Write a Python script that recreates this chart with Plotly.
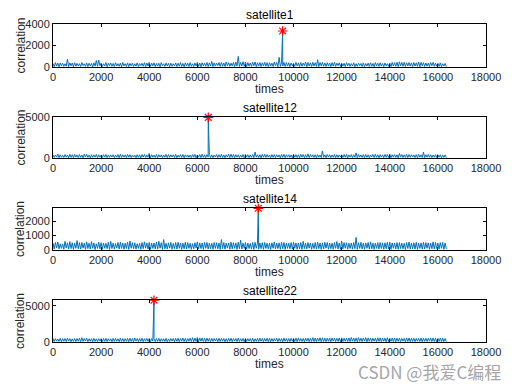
import plotly.graph_objects as go

# ---- data -------------------------------------------------------------
sample_step = 50           # times between the read-off noise samples
tick_vals = [0, 2000, 4000, 6000, 8000, 10000, 12000, 14000, 16000, 18000]
tick_text = ["0", "2000", "4000", "6000", "8000", "10000", "12000", "14000", "16000", "18000"]

titles = ["satellite1", "satellite12", "satellite14", "satellite22"]

sat1_noise = [
    320, 40, 410, 90, 360, 30, 380, 120, 350, 60, 300, 80, 720, 40, 390, 110, 370, 20, 400, 70,
    340, 90, 310, 50, 420, 130, 300, 60, 380, 40, 350, 100, 330, 20, 390, 80, 600, 60, 640, 110,
    360, 50, 300, 90, 410, 30, 350, 120, 380, 60, 330, 40, 400, 90, 310, 70, 360, 20, 420, 100,
    310, 60, 380, 30, 340, 110, 360, 50, 300, 80, 390, 40, 320, 120, 350, 70, 400, 30, 370, 90,
    430, 50, 360, 100, 390, 40, 330, 80, 350, 20, 410, 120, 300, 60, 380, 90, 340, 30, 360, 70,
    300, 110, 380, 40, 350, 80, 420, 60, 330, 20, 390, 100, 360, 50, 410, 70, 300, 40, 380, 90,
    440, 60, 370, 30, 400, 110, 350, 70, 420, 50, 380, 90, 520, 40, 390, 80, 360, 120, 410, 50,
    430, 70, 380, 40, 470, 110, 400, 60, 360, 90, 420, 30, 450, 80, 980, 50, 430, 100, 500, 60,
    460, 40, 410, 90, 380, 60, 440, 120, 470, 30, 400, 80, 420, 50, 390, 100, 440, 70, 410, 40,
    400, 80, 360, 50, 460, 120, 420, 30, 900, 60, 380, 90, 430, 50, 410, 80, 390, 40, 370, 100,
    350, 60, 430, 100, 380, 40, 410, 70, 370, 120, 460, 30, 420, 80, 390, 50, 440, 90, 400, 60,
    680, 40, 420, 110, 430, 70, 380, 50, 400, 90, 370, 30, 410, 80, 440, 60, 360, 120, 390, 50,
    370, 80, 340, 40, 400, 110, 350, 60, 320, 90, 390, 30, 310, 70, 360, 120, 330, 50, 380, 40,
    320, 90, 360, 50, 390, 70, 340, 30, 410, 110, 350, 60, 400, 80, 330, 40, 370, 100, 310, 60,
    370, 40, 430, 90, 400, 60, 450, 30, 480, 110, 420, 70, 440, 50, 390, 100, 410, 80, 380, 40,
    420, 90, 390, 60, 470, 30, 430, 110, 400, 50, 380, 80, 360, 40, 410, 120, 430, 70, 350, 90,
    340, 60, 380, 40, 310, 100, 330, 50,
]
sat12_noise = [
    410, 70, 360, 120, 480, 40, 390, 90, 340, 60, 420, 100, 370, 30, 450, 80, 400, 50, 430, 110,
    380, 60, 420, 90, 360, 40, 470, 120, 440, 70, 350, 30, 400, 80, 380, 110, 430, 50, 390, 90,
    340, 60, 410, 100, 430, 40, 380, 80, 370, 120, 400, 50, 350, 90, 420, 30, 460, 70, 390, 100,
    380, 50, 430, 90, 410, 60, 360, 120, 340, 40, 400, 80, 390, 30, 420, 110, 430, 60, 380, 90,
    560, 40, 400, 100, 360, 70, 420, 30, 400, 110, 380, 60, 370, 90, 430, 50, 420, 80, 390, 120,
    390, 60, 440, 30, 350, 100, 410, 70, 430, 40, 390, 110, 380, 80, 360, 50, 410, 90, 440, 30,
    360, 100, 410, 60, 450, 80, 390, 40, 400, 120, 430, 70, 380, 30, 360, 110, 420, 50, 400, 90,
    440, 60, 380, 30, 390, 110, 450, 50, 470, 80, 420, 40, 410, 100, 390, 60, 360, 90, 430, 30,
    430, 120, 400, 50, 380, 80, 420, 40, 720, 100, 390, 60, 400, 30, 440, 90, 450, 70, 410, 110,
    370, 40, 420, 80, 410, 60, 390, 120, 380, 30, 430, 90, 440, 50, 400, 100, 400, 70, 380, 40,
    460, 90, 410, 60, 390, 30, 450, 110, 420, 50, 400, 80, 500, 40, 430, 120, 380, 70, 410, 30,
    410, 100, 370, 50, 860, 80, 390, 40, 430, 110, 400, 60, 370, 90, 420, 30, 400, 70, 380, 120,
    390, 50, 420, 90, 440, 30, 380, 110, 410, 60, 400, 80, 620, 40, 430, 100, 380, 70, 410, 50,
    420, 90, 390, 40, 370, 120, 430, 60, 450, 80, 400, 30, 410, 110, 380, 50, 430, 90, 420, 60,
    480, 40, 400, 100, 410, 70, 390, 30, 560, 110, 420, 60, 390, 80, 440, 50, 420, 90, 400, 120,
    380, 60, 410, 30, 440, 100, 390, 70, 720, 40, 400, 110, 430, 80, 400, 50, 370, 90, 410, 60,
    410, 100, 390, 40, 350, 80, 380, 50,
]
sat14_noise = [
    480, 60, 520, 130, 550, 80, 430, 110, 420, 50, 600, 140, 500, 70, 580, 100, 500, 40, 470, 120,
    650, 90, 510, 60, 520, 130, 470, 40, 560, 100, 470, 70, 580, 120, 490, 30, 430, 110, 540, 80,
    510, 50, 480, 120, 460, 90, 530, 40, 590, 100, 470, 60, 440, 130, 520, 70, 530, 110, 480, 50,
    470, 100, 540, 40, 620, 120, 500, 80, 500, 60, 430, 110, 450, 50, 510, 90, 560, 130, 490, 70,
    520, 40, 470, 110, 480, 80, 550, 60, 600, 120, 500, 40, 720, 90, 460, 70, 490, 130, 520, 50,
    450, 100, 520, 60, 530, 120, 480, 40, 470, 90, 540, 70, 510, 110, 460, 50, 440, 80, 500, 130,
    560, 60, 490, 100, 480, 40, 530, 120, 520, 70, 470, 90, 460, 50, 520, 110, 500, 80, 480, 40,
    720, 100, 510, 60, 470, 130, 490, 50, 540, 80, 500, 120, 490, 40, 530, 90, 680, 70, 470, 110,
    510, 50, 480, 100, 450, 70, 520, 40, 530, 120, 480, 60, 480, 90, 510, 50, 520, 110, 470, 80,
    460, 40, 500, 120, 550, 70, 480, 100, 490, 50, 530, 90, 520, 40, 470, 110, 470, 80, 520, 60,
    530, 120, 490, 50, 480, 80, 510, 40, 600, 100, 470, 70, 510, 130, 480, 50, 460, 90, 520, 60,
    540, 100, 480, 40, 490, 70, 530, 120, 520, 60, 470, 90, 470, 50, 510, 110, 580, 80, 490, 40,
    620, 70, 510, 120, 500, 50, 470, 100, 480, 60, 520, 90, 870, 40, 500, 110, 530, 70, 480, 50,
    490, 120, 520, 60, 560, 80, 470, 40, 470, 110, 510, 70, 520, 100, 490, 50, 500, 90, 530, 60,
    540, 40, 490, 120, 480, 70, 510, 50, 510, 100, 470, 80, 460, 40, 520, 110, 550, 60, 480, 90,
    500, 70, 530, 40, 470, 110, 490, 60, 530, 80, 510, 120, 490, 50, 470, 90, 560, 70, 520, 100,
    480, 60, 510, 120, 520, 40, 490, 80,
]
sat22_noise = [
    500, 60, 460, 120, 420, 80, 510, 40, 460, 100, 490, 70, 530, 130, 470, 50, 440, 90, 480, 60,
    480, 110, 520, 50, 600, 80, 490, 130, 520, 60, 460, 100, 470, 40, 510, 90, 430, 70, 470, 120,
    460, 50, 480, 90, 510, 70, 460, 120, 440, 40, 500, 80, 490, 110, 450, 60, 530, 90, 480, 50,
    470, 100, 500, 60, 520, 80, 490, 40, 560, 120, 470, 70, 480, 90, 520, 50, 450, 110, 500, 80,
    500, 40, 470, 120, 440, 60, 490, 90, 510, 50, 460, 100, 470, 70, 500, 40, 430, 80, 470, 130,
    490, 60, 510, 90, 520, 40, 480, 110, 550, 70, 500, 50, 480, 100, 520, 80, 600, 40, 540, 90,
    620, 50, 560, 110, 570, 70, 520, 40, 540, 100, 500, 60, 510, 90, 480, 130, 480, 50, 510, 80,
    500, 110, 480, 40, 470, 70, 510, 90, 520, 50, 470, 120, 490, 60, 530, 80, 460, 100, 490, 40,
    510, 80, 470, 120, 480, 60, 520, 50, 450, 90, 490, 70, 530, 110, 480, 40, 490, 100, 530, 60,
    520, 50, 490, 90, 470, 130, 520, 60, 500, 80, 480, 40, 540, 110, 490, 70, 480, 50, 520, 100,
    510, 70, 540, 50, 560, 100, 490, 80, 490, 40, 520, 120, 530, 60, 500, 90, 600, 70, 550, 50,
    540, 110, 570, 40, 590, 80, 530, 60, 520, 100, 560, 50, 560, 120, 520, 70, 510, 90, 550, 40,
    580, 60, 520, 100, 540, 80, 560, 50, 620, 110, 550, 70, 560, 40, 600, 90, 530, 60, 560, 120,
    600, 40, 560, 90, 550, 70, 520, 110, 520, 50, 580, 80, 570, 60, 540, 100, 540, 40, 590, 80,
    510, 100, 550, 60, 560, 40, 520, 90, 530, 70, 490, 120, 500, 50, 560, 80, 550, 40, 520, 90,
    520, 60, 500, 110, 490, 80, 540, 40, 540, 90, 520, 70, 510, 120, 560, 50, 560, 80, 510, 40,
    500, 90, 540, 60, 530, 70, 480, 50,
]

peak_times = [9546, 6455, 8533, 4198]
peak_values = [3350, 4950, 2880, 5800]

y_ranges = [[0, 4000], [0, 5000], [0, 2900], [0, 5830]]
y_ticks = [[0, 2000, 4000], [0, 5000], [0, 1000, 2000], [0, 5000]]

noises = [sat1_noise, sat12_noise, sat14_noise, sat22_noise]

# ---- layout geometry (pixels of the 518x388 window) --------------------
# the page body has an 8px margin, so the figure starts at (8, 8)
OFF = 8
W, H = 518 - OFF, 388 - OFF
x_px = (53 - OFF, 486 - OFF)
y_px = [(24 - OFF, 67 - OFF), (117 - OFF, 158 - OFF),
        (208 - OFF, 250 - OFF), (300 - OFF, 342 - OFF)]

line_color = "#0072BD"
font_fam = "Liberation Sans, Arial, sans-serif"
tick_font = dict(family=font_fam, size=11, color="#262626")

fig = go.Figure()
annotations = []

for i in range(4):
    noise = noises[i]
    times = [k * sample_step for k in range(len(noise))]
    pts = sorted(list(zip(times, noise)) + [(peak_times[i], peak_values[i])])
    xs = [p[0] for p in pts]
    ys = [p[1] for p in pts]
    xa = "x" if i == 0 else f"x{i+1}"
    ya = "y" if i == 0 else f"y{i+1}"
    fig.add_trace(go.Scatter(x=xs, y=ys, mode="lines", xaxis=xa, yaxis=ya,
                             line=dict(color=line_color, width=1), showlegend=False,
                             hoverinfo="skip"))
    fig.add_trace(go.Scatter(x=[peak_times[i]], y=[peak_values[i]], mode="markers",
                             xaxis=xa, yaxis=ya, showlegend=False, cliponaxis=False,
                             marker=dict(symbol="asterisk-open", size=8, color="red",
                                         line=dict(color="red", width=1.2))))

    top, bot = y_px[i]
    xdom = [x_px[0] / W, x_px[1] / W]
    ydom = [1 - bot / H, 1 - top / H]
    axis_common = dict(showline=True, linecolor="black", linewidth=1, mirror="ticks",
                       ticks="inside", ticklen=3, tickcolor="black", showgrid=False,
                       zeroline=False, tickfont=tick_font, automargin=False)
    xkey = "xaxis" if i == 0 else f"xaxis{i+1}"
    ykey = "yaxis" if i == 0 else f"yaxis{i+1}"
    fig.layout[xkey] = dict(domain=xdom, range=[0, 18000], tickvals=tick_vals,
                            ticktext=tick_text, anchor=ya, **axis_common)
    fig.layout[ykey] = dict(domain=ydom, range=y_ranges[i], tickvals=y_ticks[i],
                            anchor=xa, **axis_common)

    cx = (x_px[0] + x_px[1]) / 2 / W
    annotations.append(dict(text=titles[i], x=cx, y=1 - (top - 9) / H, xref="paper",
                            yref="paper", showarrow=False, xanchor="center",
                            yanchor="middle",
                            font=dict(family=font_fam, size=12, color="black")))
    annotations.append(dict(text="times", x=cx, y=1 - (bot + 22) / H, xref="paper",
                            yref="paper", showarrow=False, xanchor="center",
                            yanchor="middle",
                            font=dict(family=font_fam, size=12, color="#262626")))
    annotations.append(dict(text="correlation", x=(20 - OFF) / W, y=1 - (top + bot) / 2 / H,
                            xref="paper", yref="paper", showarrow=False, textangle=-90,
                            xanchor="center", yanchor="middle",
                            font=dict(family=font_fam, size=12, color="#262626")))

annotations.append(dict(text="CSDN @我爱C编程", x=(503 - OFF) / W, y=1 - (371 - OFF) / H,
                        xref="paper", yref="paper", showarrow=False, xanchor="right",
                        yanchor="middle",
                        font=dict(family="Noto Sans CJK SC, sans-serif", size=17,
                                  color="#a6a6a6")))

fig.update_layout(template="none", width=W, height=H,
                  margin=dict(l=0, r=0, t=0, b=0, pad=0),
                  paper_bgcolor="white", plot_bgcolor="white",
                  annotations=annotations, showlegend=False)

fig.write_html("out.html")
